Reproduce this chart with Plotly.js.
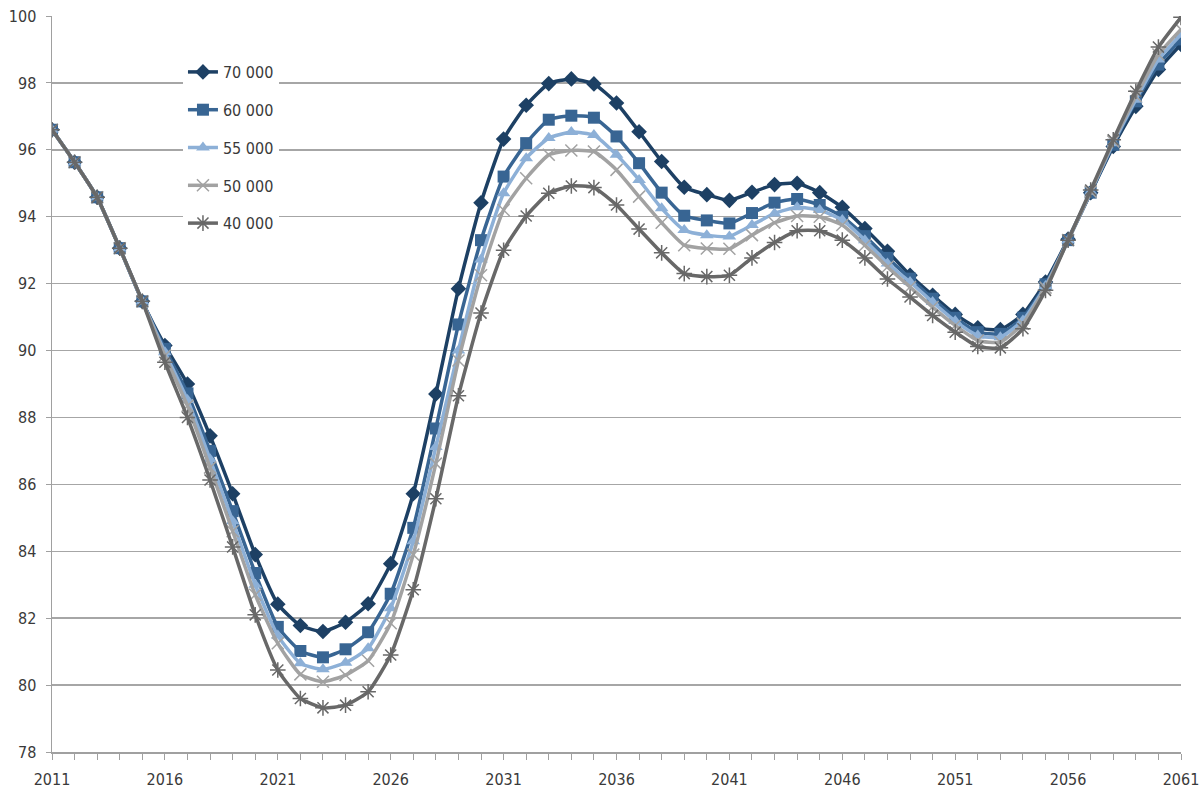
<!DOCTYPE html>
<html>
<head>
<meta charset="utf-8">
<script src="https://cdn.plot.ly/plotly-3.0.1.min.js"></script>
<style>
  html, body { margin: 0; padding: 0; background: #ffffff; }
  #chart { width: 1203px; height: 791px; }
</style>
</head>
<body>
<div id="chart"></div>
<script>
// Years 2011..2061
const years = [
  2011,2012,2013,2014,2015,2016,2017,2018,2019,2020,
  2021,2022,2023,2024,2025,2026,2027,2028,2029,2030,
  2031,2032,2033,2034,2035,2036,2037,2038,2039,2040,
  2041,2042,2043,2044,2045,2046,2047,2048,2049,2050,
  2051,2052,2053,2054,2055,2056,2057,2058,2059,2060,2061
];

const seriesNames = ["70 000", "60 000", "55 000", "50 000", "40 000"];

const s70000 = [
  96.6,95.63,94.58,93.06,91.47,90.15,89.0,87.45,85.72,83.9,
  82.42,81.78,81.6,81.88,82.43,83.63,85.72,88.7,91.85,94.42,
  96.32,97.33,97.98,98.12,97.97,97.4,96.54,95.65,94.88,94.66,
  94.49,94.73,94.96,95.0,94.72,94.28,93.65,92.97,92.25,91.65,
  91.08,90.68,90.63,91.08,92.05,93.33,94.72,96.1,97.3,98.4,99.15
];
const s60000 = [
  96.6,95.63,94.58,93.06,91.47,90.05,88.72,87.0,85.2,83.35,
  81.74,81.02,80.83,81.07,81.58,82.73,84.7,87.67,90.78,93.3,
  95.2,96.2,96.9,97.02,96.96,96.4,95.6,94.72,94.03,93.89,
  93.8,94.11,94.42,94.53,94.35,94.0,93.42,92.77,92.15,91.55,
  90.98,90.55,90.5,90.98,91.98,93.3,94.72,96.15,97.45,98.55,99.3
];
const s55000 = [
  96.6,95.63,94.58,93.06,91.47,89.95,88.52,86.75,84.9,83.0,
  81.48,80.65,80.47,80.67,81.1,82.3,84.3,87.12,90.0,92.72,
  94.7,95.75,96.35,96.53,96.44,95.85,95.1,94.25,93.6,93.45,
  93.41,93.75,94.1,94.28,94.2,93.9,93.3,92.6,92.05,91.45,
  90.88,90.45,90.4,90.9,91.93,93.3,94.75,96.2,97.5,98.7,99.45
];
const s50000 = [
  96.6,95.63,94.58,93.06,91.47,89.85,88.35,86.5,84.6,82.7,
  81.25,80.32,80.1,80.3,80.73,81.85,83.9,86.62,89.7,92.25,
  94.2,95.15,95.85,95.98,95.95,95.4,94.6,93.82,93.15,93.05,
  93.04,93.45,93.82,94.02,94.0,93.75,93.15,92.5,91.9,91.3,
  90.75,90.3,90.25,90.8,91.88,93.3,94.75,96.25,97.6,98.85,99.6
];
const s40000 = [
  96.6,95.63,94.58,93.06,91.47,89.65,88.0,86.13,84.13,82.1,
  80.45,79.6,79.32,79.4,79.8,80.9,82.85,85.57,88.65,91.12,
  93.0,94.02,94.7,94.92,94.87,94.35,93.63,92.92,92.3,92.21,
  92.25,92.77,93.23,93.58,93.58,93.3,92.77,92.14,91.6,91.05,
  90.55,90.12,90.08,90.65,91.8,93.3,94.8,96.3,97.75,99.07,99.96
];

const seriesValues = [s70000, s60000, s55000, s50000, s40000];
const colors = ["#1d4064", "#386593", "#8db0d7", "#a2a2a2", "#686868"];
const symbols = ["diamond", "square", "triangle-up", "x-thin-open", "asterisk-open"];
const sizes = [12, 12, 12, 12, 13];

const font = "'DejaVu Sans Condensed', 'Liberation Sans Narrow', 'Roboto', sans-serif";

const traces = seriesNames.map((name, i) => ({
  type: "scatter",
  mode: "lines+markers",
  name: name,
  x: years,
  y: seriesValues[i],
  legendgroup: "g" + i,
  line: { color: colors[i], width: 3.5, shape: "spline", smoothing: 0.5 },
  marker: {
    symbol: symbols[i],
    size: sizes[i],
    color: colors[i],
    line: { color: colors[i], width: (i >= 3 ? 1.5 : 0) }
  },
  hoverinfo: "skip"
}));

const layout = {
  width: 1203,
  height: 791,
  margin: { l: 52, r: 22, t: 16, b: 39 },
  paper_bgcolor: "#ffffff",
  plot_bgcolor: "#ffffff",
  font: { family: font, size: 16, color: "#3a3a3a" },
  showlegend: true,
  legend: {
    x: 0.116, y: 0.947, xanchor: "left", yanchor: "top",
    bgcolor: "#ffffff",
    borderwidth: 0,
    traceorder: "grouped",
    tracegroupgap: 14,
    font: { family: font, size: 16, color: "#3a3a3a" },
    itemwidth: 30
  },
  xaxis: {
    range: [2011, 2061],
    tick0: 2011,
    dtick: 5,
    ticks: "outside",
    ticklen: 6,
    tickcolor: "#a0a0a0",
    ticklabelstandoff: 6,
    showline: true,
    linecolor: "#a0a0a0",
    linewidth: 1.5,
    showgrid: false,
    zeroline: false,
    tickfont: { family: font, size: 16, color: "#3a3a3a" },
    minor: { dtick: 1, tick0: 2011, ticks: "outside", ticklen: 6, tickcolor: "#a0a0a0", showgrid: false }
  },
  yaxis: {
    range: [78, 100],
    dtick: 2,
    ticks: "outside",
    ticklen: 5,
    tickcolor: "#a0a0a0",
    ticklabelstandoff: 6,
    showline: true,
    linecolor: "#a0a0a0",
    linewidth: 1.5,
    showgrid: true,
    gridcolor: "#a6a6a6",
    gridwidth: 1.5,
    zeroline: false,
    tickfont: { family: font, size: 16, color: "#3a3a3a" }
  }
};

Plotly.newPlot("chart", traces, layout, { displayModeBar: false, staticPlot: true });
</script>
</body>
</html>
